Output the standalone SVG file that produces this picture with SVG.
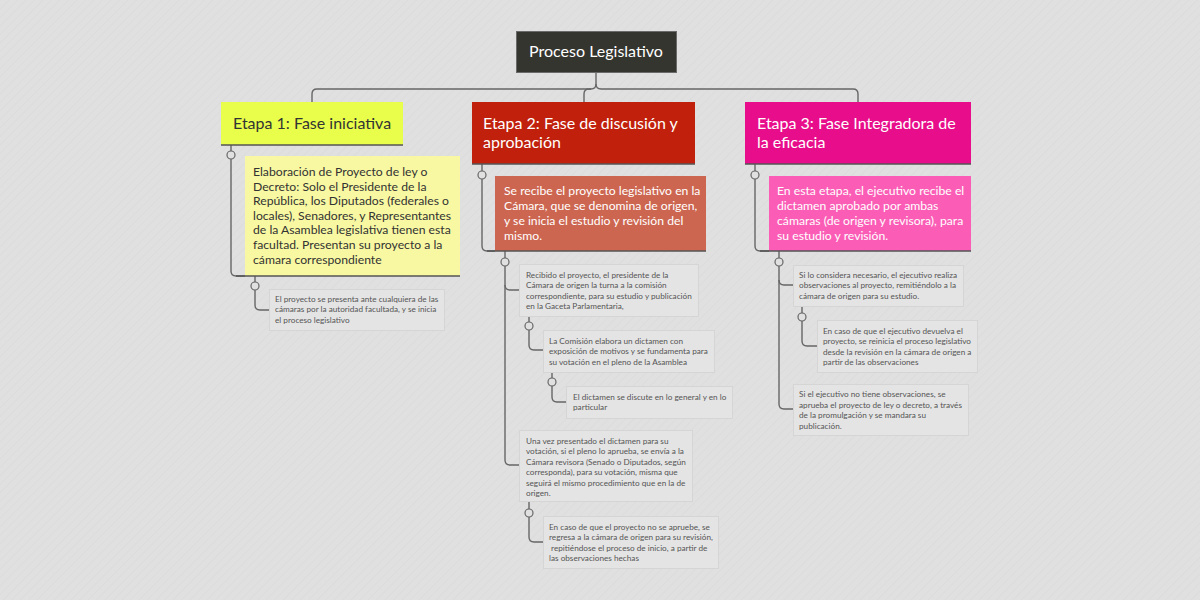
<svg xmlns="http://www.w3.org/2000/svg" width="1200" height="600" viewBox="0 0 1200 600">
<defs>
<pattern id="bgp" width="6" height="6" patternUnits="userSpaceOnUse" patternTransform="rotate(45)">
<rect width="6" height="6" fill="#e0e0e0"/>
<line x1="0" y1="0" x2="0" y2="6" stroke="#dcdcdc" stroke-width="2"/>
</pattern>
<style>
text{font-family:Lato,"Liberation Sans",sans-serif}
.hd{font-size:16px}
.md{font-size:12.2px}
.sm{font-size:8.2px;fill:#555}
.w{fill:#ffffff}
.dk{fill:#333333}
.small{fill:#e4e4e4;stroke:#d5d5d5;stroke-width:1}
.ul{stroke:#555555;stroke-width:1.6;fill:none}
.cn{stroke:#666666;stroke-width:1.4;fill:none}
.dot{fill:#e0e0e0;stroke:#666666;stroke-width:1.2}
</style>
</defs>
<rect width="1200" height="600" fill="url(#bgp)"/>

<g id="connectors">
<path class="cn" d="M596,72 V84 Q596,89 591,89 H317 Q312,89 312,94 V102"/>
<path class="cn" d="M596,84 Q596,89 601,89 H853 Q858,89 858,94 V102"/>
<path class="cn" d="M591,89 H589 Q584,89 584,94 V102"/>
<path class="cn" d="M231,145 V271 Q231,276 236,276 H245"/>
<path class="cn" d="M255,276 V305 Q255,310 260,310 H269"/>
<path class="cn" d="M482,164 V246 Q482,251 487,251 H495"/>
<path class="cn" d="M505,251 V460 Q505,465 510,465 H519"/>
<path class="cn" d="M505,285 Q505,290 510,290 H519"/>
<path class="cn" d="M529,316 V345 Q529,350 534,350 H543"/>
<path class="cn" d="M552,372 V397 Q552,402 557,402 H566"/>
<path class="cn" d="M529,501 V537 Q529,542 534,542 H543"/>
<path class="cn" d="M755,164 V246 Q755,251 760,251 H769"/>
<path class="cn" d="M779,251 V404 Q779,409 784,409 H793"/>
<path class="cn" d="M779,280 Q779,285 784,285 H793"/>
<path class="cn" d="M802,306 V341 Q802,346 807,346 H817"/>
<circle class="dot" cx="231" cy="155" r="4"/>
<circle class="dot" cx="255" cy="286" r="4"/>
<circle class="dot" cx="482" cy="175" r="4"/>
<circle class="dot" cx="505" cy="262" r="4"/>
<circle class="dot" cx="529" cy="326" r="4"/>
<circle class="dot" cx="552" cy="382" r="4"/>
<circle class="dot" cx="529" cy="513" r="4"/>
<circle class="dot" cx="755" cy="175" r="4"/>
<circle class="dot" cx="779" cy="262" r="4"/>
<circle class="dot" cx="802" cy="317" r="4"/>
</g>

<g id="root">
<rect x="516.5" y="31.5" width="160" height="41" fill="#35352f" stroke="#6a6a6a" stroke-width="1"/>
<text class="hd w" x="596" y="57" text-anchor="middle">Proceso Legislativo</text>
</g>

<g id="etapa1">
<rect x="221" y="102" width="182" height="43" fill="#e8fe4a"/>
<line class="ul" x1="221" y1="145" x2="403" y2="145"/>
<text class="hd dk" x="233" y="129">Etapa 1: Fase iniciativa</text>
</g>
<g id="etapa1-detalle">
<rect x="245" y="156" width="215" height="120" fill="#f8f8a2"/>
<line class="ul" x1="236" y1="276" x2="460" y2="276"/>
<text class="md dk" x="253" y="176">Elaboración de Proyecto de ley o</text>
<text class="md dk" x="253" y="190.6">Decreto: Solo el Presidente de la</text>
<text class="md dk" x="253" y="205.2">República, los Diputados (federales o</text>
<text class="md dk" x="253" y="219.8">locales), Senadores, y Representantes</text>
<text class="md dk" x="253" y="234.4">de la Asamblea legislativa tienen esta</text>
<text class="md dk" x="253" y="249">facultad. Presentan su proyecto a la</text>
<text class="md dk" x="253" y="263.6">cámara correspondiente</text>
</g>
<g id="etapa1-n1">
<rect class="small" x="269.5" y="289.5" width="175" height="41"/>
<text class="sm" x="275" y="301.5">El proyecto se presenta ante cualquiera de las</text>
<text class="sm" x="275" y="312">cámaras por la autoridad facultada, y se inicia</text>
<text class="sm" x="275" y="322.5">el proceso legislativo</text>
</g>

<g id="etapa2">
<rect x="472" y="102" width="223" height="62" fill="#c1210c"/>
<line class="ul" x1="472" y1="164" x2="695" y2="164"/>
<text class="hd w" x="483" y="129">Etapa 2: Fase de discusión y</text>
<text class="hd w" x="483" y="148">aprobación</text>
</g>
<g id="etapa2-detalle">
<rect x="495" y="176" width="211" height="75" fill="#cd6650"/>
<line class="ul" x1="487" y1="251" x2="706" y2="251"/>
<text class="md w" x="504" y="195">Se recibe el proyecto legislativo en la</text>
<text class="md w" x="504" y="210">Cámara, que se denomina de origen,</text>
<text class="md w" x="504" y="225">y se inicia el estudio y revisión del</text>
<text class="md w" x="504" y="240">mismo.</text>
</g>
<g id="etapa2-n1">
<rect class="small" x="519.5" y="264.5" width="179" height="52"/>
<text class="sm" x="526" y="277.5">Recibido el proyecto, el presidente de la</text>
<text class="sm" x="526" y="288">Cámara de origen la turna a la comisión</text>
<text class="sm" x="526" y="298.5">correspondiente, para su estudio y publicación</text>
<text class="sm" x="526" y="309">en la Gaceta Parlamentaria,</text>
</g>
<g id="etapa2-n2">
<rect class="small" x="543.5" y="330.5" width="171" height="42"/>
<text class="sm" x="549" y="343.5">La Comisión elabora un dictamen con</text>
<text class="sm" x="549" y="354">exposición de motivos y se fundamenta para</text>
<text class="sm" x="549" y="364.5">su votación en el pleno de la Asamblea</text>
</g>
<g id="etapa2-n3">
<rect class="small" x="566.5" y="386.5" width="166" height="32"/>
<text class="sm" x="573" y="399.5">El dictamen se discute en lo general y en lo</text>
<text class="sm" x="573" y="410">particular</text>
</g>
<g id="etapa2-n4">
<rect class="small" x="519.5" y="430.5" width="173" height="71"/>
<text class="sm" x="526" y="443.5">Una vez presentado el dictamen para su</text>
<text class="sm" x="526" y="454">votación, si el pleno lo aprueba, se envía a la</text>
<text class="sm" x="526" y="464.5">Cámara revisora (Senado o Diputados, según</text>
<text class="sm" x="526" y="475">corresponda), para su votación, misma que</text>
<text class="sm" x="526" y="485.5">seguirá el mismo procedimiento que en la de</text>
<text class="sm" x="526" y="496">origen.</text>
</g>
<g id="etapa2-n5">
<rect class="small" x="543.5" y="516.5" width="175" height="52"/>
<text class="sm" x="549" y="529.5">En caso de que el proyecto no se apruebe, se</text>
<text class="sm" x="549" y="540">regresa a la cámara de origen para su revisión,</text>
<text class="sm" x="549" y="550.5" xml:space="preserve"> repitiéndose el proceso de inicio, a partir de</text>
<text class="sm" x="549" y="561">las observaciones hechas</text>
</g>

<g id="etapa3">
<rect x="745" y="102" width="226" height="62" fill="#e80d8a"/>
<line class="ul" x1="745" y1="164" x2="971" y2="164"/>
<text class="hd w" x="757" y="129">Etapa 3: Fase Integradora de</text>
<text class="hd w" x="757" y="148">la eficacia</text>
</g>
<g id="etapa3-detalle">
<rect x="769" y="176" width="202" height="75" fill="#fb5db6"/>
<line class="ul" x1="760" y1="251" x2="971" y2="251"/>
<text class="md w" x="777" y="195">En esta etapa, el ejecutivo recibe el</text>
<text class="md w" x="777" y="210">dictamen aprobado por ambas</text>
<text class="md w" x="777" y="225">cámaras (de origen y revisora), para</text>
<text class="md w" x="777" y="240">su estudio y revisión.</text>
</g>
<g id="etapa3-n1">
<rect class="small" x="793.5" y="265.5" width="170" height="41"/>
<text class="sm" x="799" y="277.5">Si lo considera necesario, el ejecutivo realiza</text>
<text class="sm" x="799" y="288">observaciones al proyecto, remitiéndolo a la</text>
<text class="sm" x="799" y="298.5">cámara de origen para su estudio.</text>
</g>
<g id="etapa3-n2">
<rect class="small" x="817.5" y="320.5" width="160" height="52"/>
<text class="sm" x="823" y="333.5">En caso de que el ejecutivo devuelva el</text>
<text class="sm" x="823" y="344">proyecto, se reinicia el proceso legislativo</text>
<text class="sm" x="823" y="354.5">desde la revisión en la cámara de origen a</text>
<text class="sm" x="823" y="365">partir de las observaciones</text>
</g>
<g id="etapa3-n3">
<rect class="small" x="793.5" y="384.5" width="175" height="51"/>
<text class="sm" x="799" y="397">Si el ejecutivo no tiene observaciones, se</text>
<text class="sm" x="799" y="407.5">aprueba el proyecto de ley o decreto, a través</text>
<text class="sm" x="799" y="418">de la promulgación y se mandara su</text>
<text class="sm" x="799" y="428.5">publicación.</text>
</g>
</svg>
